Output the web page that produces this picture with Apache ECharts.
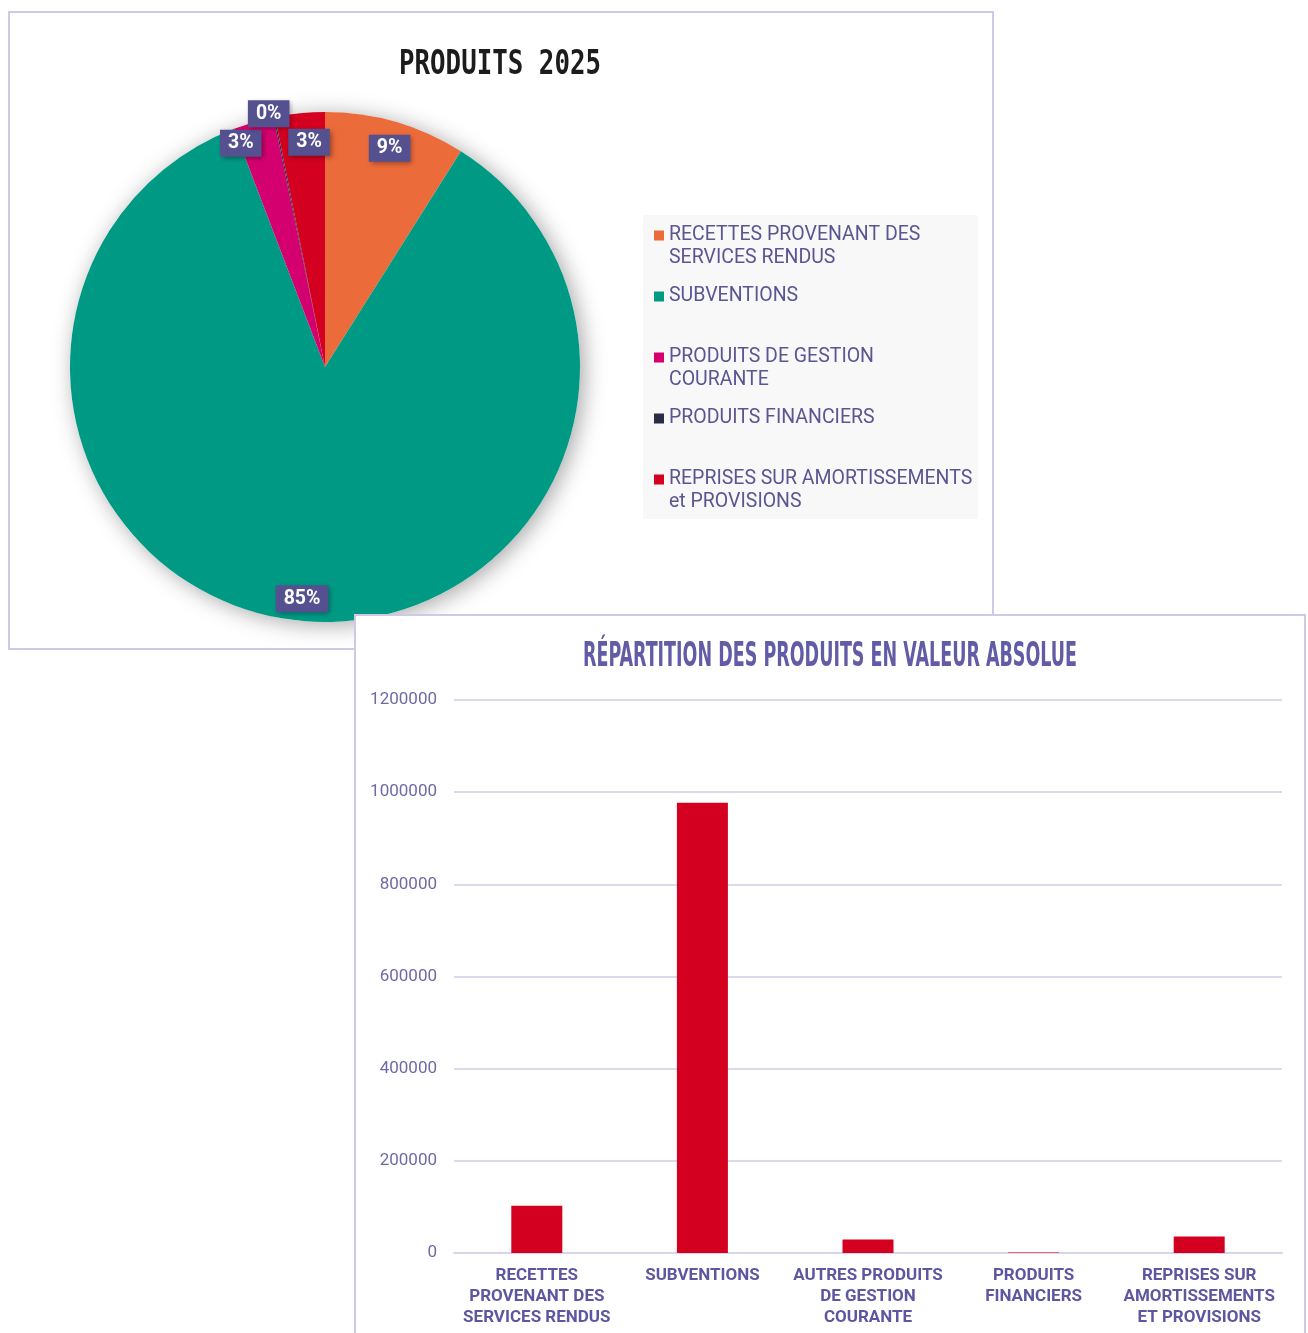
<!DOCTYPE html>
<html>
<head>
<meta charset="utf-8">
<script src="https://cdn.jsdelivr.net/npm/echarts@6/dist/echarts.min.js"></script>
<style>
html, body { margin: 0; background: #fff; overflow: hidden; }
.frame { position: absolute; box-sizing: border-box; border: 2px solid #cdc9e6; background: #fff; }
#pieFrame { left: 8px; top: 11px; width: 986px; height: 639px; }
#barFrame { left: 354px; top: 614px; width: 952px; height: 721px; }
.chart { width: 100%; height: 100%; }
</style>
</head>
<body>
<div class="frame" id="pieFrame"><div class="chart" id="pie"></div></div>
<div class="frame" id="barFrame"><div class="chart" id="bar"></div></div>
<script>
// categories as written in the pie legend
const pieNames = [
	'RECETTES PROVENANT DES\nSERVICES RENDUS',
	'SUBVENTIONS',
	'PRODUITS DE GESTION\nCOURANTE',
	'PRODUITS FINANCIERS',
	'REPRISES SUR AMORTISSEMENTS\net PROVISIONS'
]
// same categories as written under the bars
const barNames = [
	'RECETTES\nPROVENANT DES\nSERVICES RENDUS',
	'SUBVENTIONS',
	'AUTRES PRODUITS\nDE GESTION\nCOURANTE',
	'PRODUITS\nFINANCIERS',
	'REPRISES SUR\nAMORTISSEMENTS\nET PROVISIONS'
]
const values = [102500, 977000, 29500, 1000, 36000]
const sliceColors = ['#ec6b3a', '#009a84', '#d5006f', '#2b2b48', '#d4001f']
const yMin = 0
const yMax = 1200000
const yStep = 200000

const pieTitle = 'PRODUITS 2025'
const barTitle = 'RÉPARTITION DES PRODUITS EN VALEUR ABSOLUE'

// small nudges so the crowded labels at the top don't overlap
const labelNudge = [[0, 5], [0, 0], [-19, 0], [-10, -25], [7, 7]]

const fitScale = (text, font, width) => {
	const ctx = document.createElement('canvas').getContext('2d')
	ctx.font = font
	return width / ctx.measureText(text).width
}

const pieCenter = [315, 354]
const pieTitleFont = 'bold 34px "DejaVu Sans Mono"'
const barTitleFont = 'bold 33px "DejaVu Sans Condensed"'

// legend entries: a blank first line keeps the swatch level with the first text line
const legendText = name => {
	const lines = name.split('\n')
	if (lines.length < 2) lines.push('\u00a0')
	return '\u00a0\n' + lines.join('\n')
}

const pieChart = echarts.init(document.getElementById('pie'))
pieChart.setOption({
	animation: false,
	graphic: [
		{
			type: 'rect',
			z: 0,
			shape: { x: 633, y: 202, width: 335, height: 304 },
			style: { fill: '#f8f8f8' }
		},
		{
			type: 'text',
			x: 490,
			y: 52,
			scaleX: fitScale(pieTitle, pieTitleFont, 202),
			style: {
				text: pieTitle,
				font: pieTitleFont,
				fill: '#1c1c1c',
				align: 'center',
				verticalAlign: 'middle'
			}
		}
	],
	legend: {
		data: pieNames,
		orient: 'vertical',
		left: 644,
		top: 188,
		padding: 0,
		itemGap: -8,
		icon: 'rect',
		itemWidth: 10,
		itemHeight: 10,
		selectedMode: false,
		formatter: legendText,
		textStyle: {
			color: '#5b5592',
			fontFamily: 'Roboto',
			fontSize: 19.5,
			lineHeight: 23
		}
	},
	series: [
		{
			// backing disc that carries the soft shadow
			type: 'pie',
			silent: true,
			z: 1,
			center: pieCenter,
			radius: 255,
			label: { show: false },
			labelLine: { show: false },
			data: [{ name: 'fond', value: 1 }],
			itemStyle: {
				color: '#fff',
				shadowBlur: 22,
				shadowOffsetX: 4,
				shadowOffsetY: 3,
				shadowColor: 'rgba(0,0,0,0.35)'
			}
		},
		{
			type: 'pie',
			silent: true,
			z: 2,
			center: pieCenter,
			radius: 255,
			startAngle: 90,
			clockwise: true,
			label: { show: false },
			labelLine: { show: false },
			data: pieNames.map((n, i) => ({ name: n, value: values[i], itemStyle: { color: sliceColors[i] } }))
		},
		{
			// transparent ring used only to put the percent labels near the rim
			type: 'pie',
			silent: true,
			z: 3,
			center: pieCenter,
			radius: [220, 240],
			startAngle: 90,
			clockwise: true,
			itemStyle: { color: 'rgba(0,0,0,0)' },
			labelLine: { show: false },
			label: {
				show: true,
				position: 'inside',
				formatter: p => Math.round(p.percent) + '%',
				color: '#fff',
				fontFamily: 'Roboto',
				fontWeight: 'bold',
				fontSize: 19.5,
				backgroundColor: '#55508f',
				padding: [4, 8, 3, 8],
				shadowBlur: 5,
				shadowOffsetX: 2,
				shadowOffsetY: 2,
				shadowColor: 'rgba(0,0,0,0.35)'
			},
			data: pieNames.map((n, i) => ({
				name: n,
				value: values[i],
				label: { offset: labelNudge[i] }
			}))
		}
	]
})

const barChart = echarts.init(document.getElementById('bar'))
barChart.setOption({
	animation: false,
	graphic: [
		{
			type: 'text',
			x: 474,
			y: 41,
			scaleX: fitScale(barTitle, barTitleFont, 494),
			style: {
				text: barTitle,
				font: barTitleFont,
				fill: '#625ca6',
				align: 'center',
				verticalAlign: 'middle'
			}
		}
	],
	grid: { left: 98, right: 22, top: 84, bottom: 80 },
	xAxis: {
		type: 'category',
		data: barNames,
		axisTick: { show: false },
		axisLine: { lineStyle: { color: '#d9d6ea', width: 2 } },
		axisLabel: {
			interval: 0,
			margin: 12,
			color: '#5d57a0',
			fontFamily: 'Roboto',
			fontWeight: 'bold',
			fontSize: 17,
			lineHeight: 21
		}
	},
	yAxis: {
		type: 'value',
		min: yMin,
		max: yMax,
		interval: yStep,
		axisLine: { show: false },
		axisTick: { show: false },
		axisLabel: {
			color: '#6f69a6',
			fontFamily: 'Roboto',
			fontSize: 17,
			margin: 17,
			formatter: v => String(v)
		},
		splitLine: { lineStyle: { color: '#dcd9ec', width: 2 } }
	},
	series: [
		{
			type: 'bar',
			data: values,
			barWidth: 51,
			itemStyle: { color: '#d4001f' },
			silent: true
		}
	]
})
</script>
</body>
</html>
